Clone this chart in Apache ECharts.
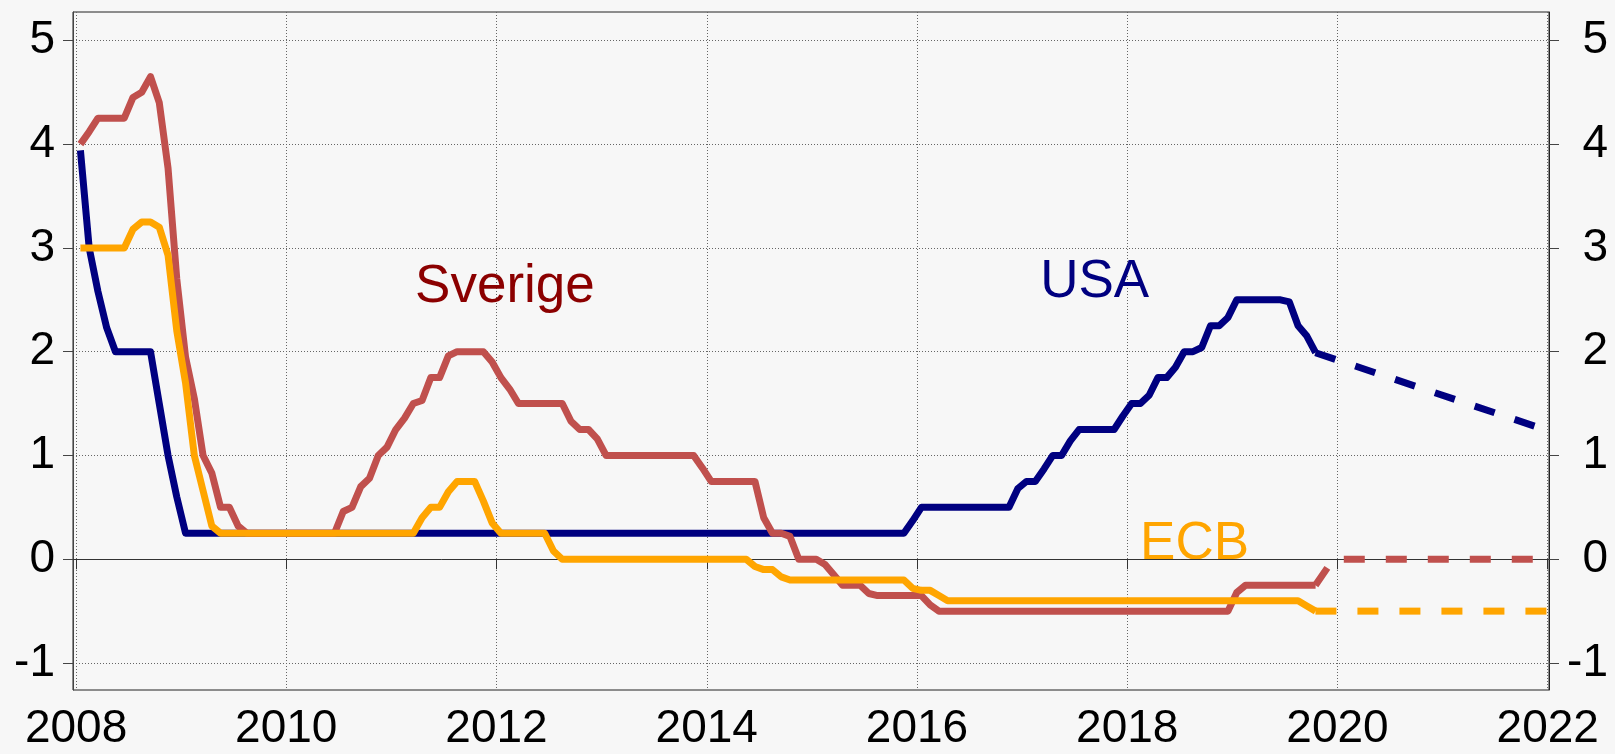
<!DOCTYPE html>
<html>
<head>
<meta charset="utf-8">
<script src="https://cdn.jsdelivr.net/npm/echarts@6/dist/echarts.min.js"></script>
<style>
  html, body { margin: 0; padding: 0; background: #f7f7f7; }
  #chart { width: 1615px; height: 754px; }
</style>
</head>
<body>
<div id="chart"></div>
<script>
// monthly policy rates, Jan 2008 .. Oct 2019 (one value per month)
const startYear = 2008;

const usa = [
  3.94, 3.00, 2.58, 2.23, 2.00, 2.00, 2.00, 2.00, 2.00, 1.50, 1.00, 0.60,
  0.25, 0.25, 0.25, 0.25, 0.25, 0.25, 0.25, 0.25, 0.25, 0.25, 0.25, 0.25,
  0.25, 0.25, 0.25, 0.25, 0.25, 0.25, 0.25, 0.25, 0.25, 0.25, 0.25, 0.25,
  0.25, 0.25, 0.25, 0.25, 0.25, 0.25, 0.25, 0.25, 0.25, 0.25, 0.25, 0.25,
  0.25, 0.25, 0.25, 0.25, 0.25, 0.25, 0.25, 0.25, 0.25, 0.25, 0.25, 0.25,
  0.25, 0.25, 0.25, 0.25, 0.25, 0.25, 0.25, 0.25, 0.25, 0.25, 0.25, 0.25,
  0.25, 0.25, 0.25, 0.25, 0.25, 0.25, 0.25, 0.25, 0.25, 0.25, 0.25, 0.25,
  0.25, 0.25, 0.25, 0.25, 0.25, 0.25, 0.25, 0.25, 0.25, 0.25, 0.25, 0.37,
  0.50, 0.50, 0.50, 0.50, 0.50, 0.50, 0.50, 0.50, 0.50, 0.50, 0.50, 0.68,
  0.75, 0.75, 0.87, 1.00, 1.00, 1.14, 1.25, 1.25, 1.25, 1.25, 1.25, 1.38,
  1.50, 1.50, 1.58, 1.75, 1.75, 1.85, 2.00, 2.00, 2.04, 2.25, 2.25, 2.33,
  2.50, 2.50, 2.50, 2.50, 2.50, 2.50, 2.48, 2.25, 2.15, 1.99
];

const sverige = [
  4.00, 4.12, 4.25, 4.25, 4.25, 4.25, 4.45, 4.50, 4.65, 4.40, 3.77, 2.70,
  1.95, 1.55, 1.00, 0.83, 0.50, 0.50, 0.32, 0.25, 0.25, 0.25, 0.25, 0.25,
  0.25, 0.25, 0.25, 0.25, 0.25, 0.25, 0.46, 0.50, 0.70, 0.78, 1.00, 1.08,
  1.25, 1.36, 1.50, 1.53, 1.75, 1.75, 1.96, 2.00, 2.00, 2.00, 2.00, 1.90,
  1.75, 1.64, 1.50, 1.50, 1.50, 1.50, 1.50, 1.50, 1.33, 1.25, 1.25, 1.16,
  1.00, 1.00, 1.00, 1.00, 1.00, 1.00, 1.00, 1.00, 1.00, 1.00, 1.00, 0.88,
  0.75, 0.75, 0.75, 0.75, 0.75, 0.75, 0.40, 0.25, 0.25, 0.22, 0.00, 0.00,
  0.00, -0.05, -0.15, -0.25, -0.25, -0.25, -0.33, -0.35, -0.35, -0.35, -0.35, -0.35,
  -0.35, -0.44, -0.50, -0.50, -0.50, -0.50, -0.50, -0.50, -0.50, -0.50, -0.50, -0.50,
  -0.50, -0.50, -0.50, -0.50, -0.50, -0.50, -0.50, -0.50, -0.50, -0.50, -0.50, -0.50,
  -0.50, -0.50, -0.50, -0.50, -0.50, -0.50, -0.50, -0.50, -0.50, -0.50, -0.50, -0.50,
  -0.32, -0.25, -0.25, -0.25, -0.25, -0.25, -0.25, -0.25, -0.25, -0.25
];

const ecb = [
  3.00, 3.00, 3.00, 3.00, 3.00, 3.00, 3.18, 3.25, 3.25, 3.20, 2.93, 2.20,
  1.70, 1.00, 0.66, 0.32, 0.25, 0.25, 0.25, 0.25, 0.25, 0.25, 0.25, 0.25,
  0.25, 0.25, 0.25, 0.25, 0.25, 0.25, 0.25, 0.25, 0.25, 0.25, 0.25, 0.25,
  0.25, 0.25, 0.25, 0.40, 0.50, 0.50, 0.65, 0.75, 0.75, 0.75, 0.56, 0.35,
  0.25, 0.25, 0.25, 0.25, 0.25, 0.25, 0.08, 0.00, 0.00, 0.00, 0.00, 0.00,
  0.00, 0.00, 0.00, 0.00, 0.00, 0.00, 0.00, 0.00, 0.00, 0.00, 0.00, 0.00,
  0.00, 0.00, 0.00, 0.00, 0.00, -0.07, -0.10, -0.10, -0.17, -0.20, -0.20, -0.20,
  -0.20, -0.20, -0.20, -0.20, -0.20, -0.20, -0.20, -0.20, -0.20, -0.20, -0.20, -0.28,
  -0.30, -0.30, -0.35, -0.40, -0.40, -0.40, -0.40, -0.40, -0.40, -0.40, -0.40, -0.40,
  -0.40, -0.40, -0.40, -0.40, -0.40, -0.40, -0.40, -0.40, -0.40, -0.40, -0.40, -0.40,
  -0.40, -0.40, -0.40, -0.40, -0.40, -0.40, -0.40, -0.40, -0.40, -0.40, -0.40, -0.40,
  -0.40, -0.40, -0.40, -0.40, -0.40, -0.40, -0.40, -0.40, -0.45, -0.50
];

// forecasts (dashed), [year, value]
const usaForecast = [[2019.79, 1.99], [2022.0, 1.24]];
const sverigeForecast = [[2019.79, -0.25], [2019.96, 0.0], [2022.0, 0.0]];
const ecbForecast = [[2019.79, -0.50], [2022.0, -0.50]];

const yearTicks = [2008, 2010, 2012, 2014, 2016, 2018, 2020, 2022];
const valueTicks = [-1, 0, 1, 2, 3, 4, 5];

const noteNames = ['Sverige', 'USA', 'ECB'];
const noteX = [2012.08, 2017.69, 2018.64];
const noteY = [2.62, 2.67, 0.14];

const colors = { usa: '#000080', sverige: '#c0504d', ecb: '#ffa500' };
const noteColors = ['#8b0000', '#000080', '#ffa500'];

function monthly(values) {
  return values.map((v, i) => [startYear + (i + 0.5) / 12, v]);
}

const font = '"Liberation Sans", Arial, sans-serif';
const gridLine = { show: true, lineStyle: { color: '#666', width: 1, type: [1, 2] } };

function lineSeries(name, data, color, dashed) {
  return {
    name: name,
    type: 'line',
    data: data,
    showSymbol: false,
    symbol: 'none',
    silent: true,
    lineStyle: { color: color, width: 7, type: dashed ? [21, 21] : 'solid', cap: 'butt', join: 'round' }
  };
}

const chart = echarts.init(document.getElementById('chart'));
chart.setOption({
  animation: false,
  backgroundColor: '#f7f7f7',
  grid: {
    left: 73, top: 12, width: 1476, height: 678,
    show: true, borderColor: '#222', borderWidth: 1, backgroundColor: 'transparent'
  },
  xAxis: {
    type: 'value',
    min: 2007.971,
    max: 2022.012,
    axisLine: { show: true, lineStyle: { color: '#333' } },
    axisTick: { show: true, length: 10, inside: false, customValues: yearTicks, lineStyle: { color: '#333' } },
    axisLabel: {
      customValues: yearTicks, fontSize: 46, fontFamily: font, color: '#000', margin: 16,
      formatter: v => String(v)
    },
    splitLine: gridLine
  },
  yAxis: [
    {
      type: 'value',
      min: -1.26,
      max: 5.273,
      position: 'left',
      axisLine: { show: true, lineStyle: { color: '#444' } },
      axisTick: { show: true, length: 10, customValues: valueTicks, lineStyle: { color: '#444' } },
      axisLabel: { customValues: valueTicks, fontSize: 46, fontFamily: font, color: '#000', margin: 18 },
      splitLine: gridLine
    },
    {
      type: 'value',
      min: -1.26,
      max: 5.273,
      position: 'right',
      axisLine: { show: true, lineStyle: { color: '#222' } },
      axisTick: { show: true, length: 10, customValues: valueTicks, lineStyle: { color: '#444' } },
      axisLabel: { customValues: valueTicks, fontSize: 46, fontFamily: font, color: '#000', margin: 59, align: 'right' },
      splitLine: { show: false }
    }
  ],
  series: [
    lineSeries('USA', monthly(usa), colors.usa, false),
    lineSeries('USA prognos', usaForecast, colors.usa, true),
    lineSeries('Sverige', monthly(sverige), colors.sverige, false),
    lineSeries('Sverige prognos', sverigeForecast, colors.sverige, true),
    lineSeries('ECB', monthly(ecb), colors.ecb, false),
    lineSeries('ECB prognos', ecbForecast, colors.ecb, true)
  ]
});

// series name labels placed in data coordinates
chart.setOption({
  graphic: noteNames.map((name, i) => {
    const p = chart.convertToPixel({ gridIndex: 0 }, [noteX[i], noteY[i]]);
    return {
      type: 'text',
      x: p[0],
      y: p[1],
      silent: true,
      style: {
        text: name,
        fill: noteColors[i],
        font: '53px ' + font,
        textAlign: 'center',
        textVerticalAlign: 'middle'
      }
    };
  })
});
</script>
</body>
</html>
